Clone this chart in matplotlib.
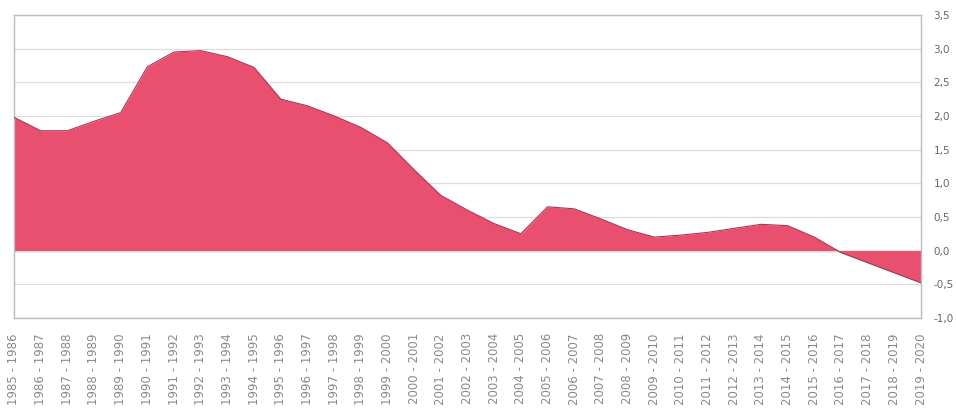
import numpy as np
import matplotlib.pyplot as plt

# periodos y valores
periodos = [f"{a} - {a + 1}" for a in range(1985, 2020)]
valores = [1.98, 1.78, 1.78, 1.92, 2.05, 2.73, 2.95, 2.97, 2.88, 2.72,
           2.25, 2.15, 2.00, 1.83, 1.60, 1.20, 0.82, 0.60, 0.40, 0.25,
           0.65, 0.62, 0.47, 0.31, 0.20, 0.23, 0.27, 0.33, 0.39, 0.37,
           0.20, -0.03, -0.18, -0.33, -0.48]
marcas_y = [-1.0, -0.5, 0.0, 0.5, 1.0, 1.5, 2.0, 2.5, 3.0, 3.5]

fig = plt.figure(figsize=(9.56, 4.15), dpi=100)
ax = fig.add_axes([0.0146, 0.234, 0.9488, 0.730])

x = np.arange(len(periodos))
ax.fill_between(x, valores, 0, color="#e9506f", linewidth=0, zorder=2)
ax.plot(x, valores, color="#9c3a55", linewidth=0.8, zorder=3)
ax.axhline(0, color="#999999", linewidth=1.0, zorder=1)

ax.set_xlim(0, len(periodos) - 1)
ax.set_ylim(-1.0, 3.5)
ax.set_yticks(marcas_y)
ax.set_yticklabels([f"{v:.1f}".replace(".", ",") for v in marcas_y],
                   fontsize=7.5, color="#666666")
ax.yaxis.tick_right()
ax.tick_params(axis="y", length=0, pad=9)
ax.grid(axis="y", color="#dddddd", linewidth=0.9, zorder=0)

ax.set_xticks(x)
ax.set_xticklabels(periodos, rotation=90, fontsize=8.5, color="#8a8a8a")
ax.tick_params(axis="x", length=0, pad=11)

for s in ax.spines.values():
    s.set_color("#bbbbbb")
    s.set_linewidth(1.0)

fig.savefig("out.png", dpi=100)
